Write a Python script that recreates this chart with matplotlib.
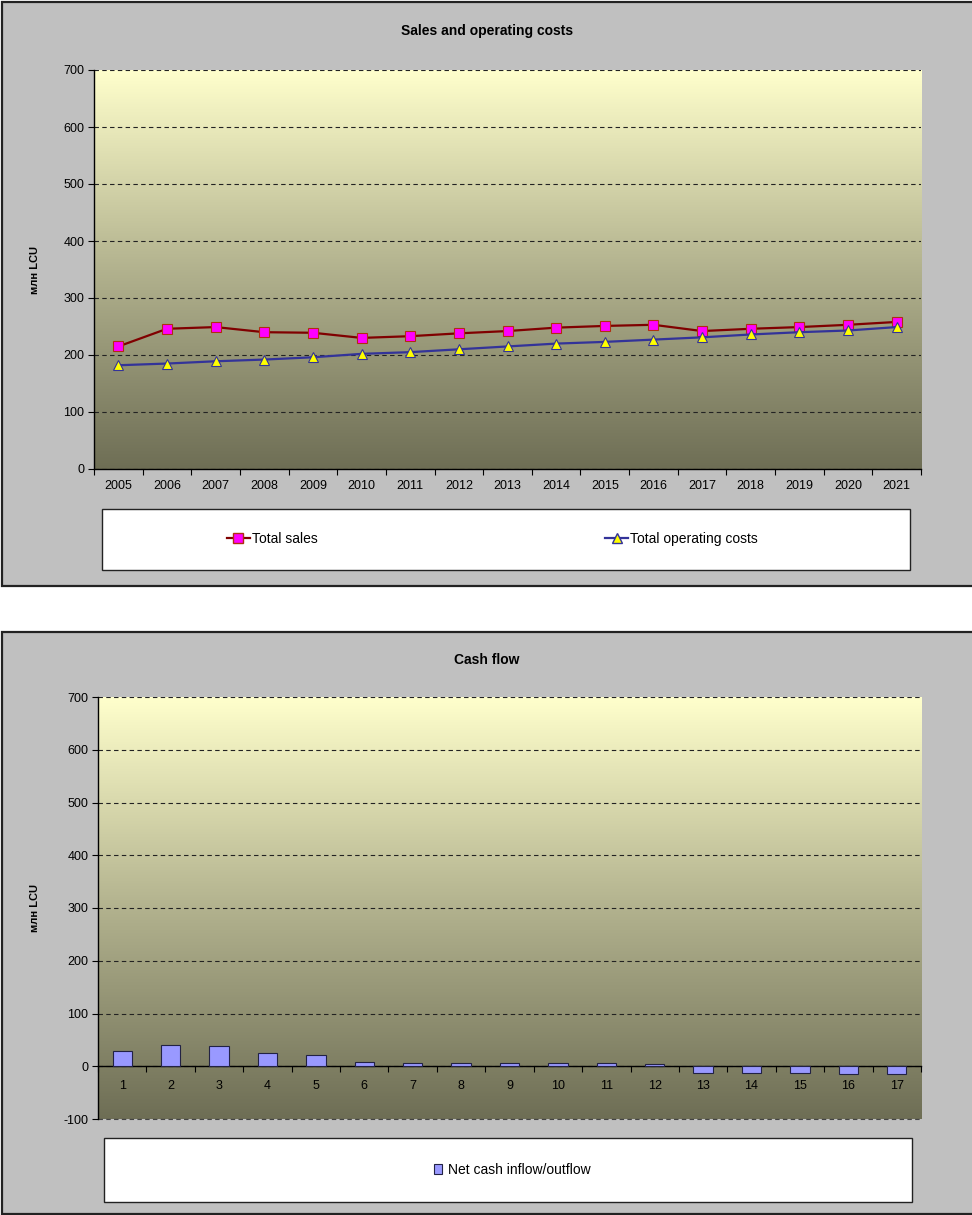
import numpy as np
import matplotlib
matplotlib.use("Agg")
import matplotlib.pyplot as plt
from matplotlib.patches import Rectangle
from matplotlib.lines import Line2D
from matplotlib.colors import LinearSegmentedColormap

plt.rcParams['font.family'] = ['Liberation Sans', 'DejaVu Sans']
plt.rcParams['axes.unicode_minus'] = False

# data
years = [str(y) for y in range(2005, 2022)]
total_sales = [215, 246, 249, 240, 239, 230, 233, 238, 242, 248, 251, 253, 242, 246, 249, 253, 258]
operating_costs = [182, 185, 189, 192, 196, 202, 205, 210, 215, 220, 223, 227, 231, 236, 240, 243, 249]
periods = [str(i) for i in range(1, 18)]
net_cash = [28, 40, 38, 26, 21, 8, 7, 7, 7, 7, 7, 5, -12, -12, -12, -14, -14]

W, H = 972, 1215
fig = plt.figure(figsize=(W / 100, H / 100), dpi=100)


def fx(x):
    return x / W


def fy(y):
    return 1 - y / H


def box(x0, y0, x1, y1, fc, ec, lw):
    fig.add_artist(Rectangle((fx(x0), fy(y1)), fx(x1) - fx(x0), fy(y0) - fy(y1),
                             transform=fig.transFigure, facecolor=fc,
                             edgecolor=ec, lw=lw, zorder=-1))


# grey chart panels + white legend boxes
box(2, 2, 980, 586, '#C0C0C0', '#222222', 1.6)
box(2, 632, 980, 1214, '#C0C0C0', '#222222', 1.6)
box(102, 509, 910, 570, 'white', '#222222', 1.0)
box(104, 1138, 912, 1202, 'white', '#222222', 1.0)

grad = LinearSegmentedColormap.from_list('bg', ['#6E6E55', '#B2B28E', '#FFFFCC'])


def style_axes(ax, ymin, ymax):
    x = np.arange(1, 18)
    ax.imshow(np.linspace(0, 1, 256).reshape(-1, 1), cmap=grad, origin='lower',
              extent=(0.5, 17.5, ymin, ymax), aspect='auto', zorder=0)
    ax.set_xlim(0.5, 17.5)
    ax.set_ylim(ymin, ymax)
    ax.set_yticks(np.arange(ymin, ymax + 1, 100))
    ax.set_xticks(x)
    ax.set_xticks(np.arange(0.5, 18, 1), minor=True)
    ax.tick_params(axis='x', which='major', length=0, labelsize=9, pad=8)
    ax.tick_params(axis='x', which='minor', length=4, width=0.8, direction='out')
    ax.tick_params(axis='y', length=4, width=0.8, labelsize=9, pad=3)
    ax.set_axisbelow(True)
    ax.yaxis.grid(True, color='#222222', lw=0.8, dashes=(4, 3))
    for s in ['top', 'right']:
        ax.spines[s].set_visible(False)
    ax.spines['left'].set_linewidth(1.0)
    ax.spines['bottom'].set_linewidth(1.0)
    ax.set_facecolor('none')
    ax.set_ylabel('млн LCU', fontsize=8, fontweight='bold')


# --- Sales and operating costs ---
ax1 = fig.add_axes([fx(94), fy(469), fx(921) - fx(94), fy(70) - fy(469)])
style_axes(ax1, 0, 700)
x = np.arange(1, 18)
ax1.plot(x, total_sales, color='#800000', lw=1.6, marker='s', ms=7,
         mfc='#FF00FF', mec='#B03010', mew=0.8, zorder=3)
ax1.plot(x, operating_costs, color='#333399', lw=1.6, marker='^', ms=7.5,
         mfc='#FFFF00', mec='#333399', mew=0.8, zorder=3)
ax1.set_xticklabels(years)
ax1.yaxis.set_label_coords((40 - 94) / (921 - 94), 0.5)
fig.text(fx(487), fy(31), 'Sales and operating costs', ha='center', va='center',
         fontsize=10, fontweight='bold')

h1 = [Line2D([], [], color='#800000', lw=1.6, marker='s', ms=7, mfc='#FF00FF', mec='#B03010'),
      Line2D([], [], color='#333399', lw=1.6, marker='^', ms=7.5, mfc='#FFFF00', mec='#333399')]
fig.legend(h1, ['Total sales', 'Total operating costs'], loc='center left',
           bbox_to_anchor=(fx(227), fy(539)), frameon=False, ncol=2, fontsize=10,
           borderpad=0, borderaxespad=0, handlelength=1.65, handletextpad=0.15,
           columnspacing=20.7)

# --- Cash flow ---
ax2 = fig.add_axes([fx(98), fy(1119), fx(921) - fx(98), fy(697) - fy(1119)])
style_axes(ax2, -100, 700)
ax2.bar(x, net_cash, width=0.4, color='#9999FF', edgecolor='#222244', lw=0.8, zorder=3)
ax2.spines['bottom'].set_position(('data', 0))
ax2.axhline(-100, color='#444444', lw=0.8, dashes=(4, 3), zorder=1, clip_on=False)
ax2.set_xticklabels(periods)
ax2.tick_params(axis='x', which='major', pad=10)
ax2.yaxis.set_label_coords((40 - 98) / (921 - 98), 0.5)
fig.text(fx(487), fy(660), 'Cash flow', ha='center', va='center',
         fontsize=10, fontweight='bold')

h2 = [Rectangle((0, 0), 1, 1, facecolor='#9999FF', edgecolor='#222244', lw=0.8)]
fig.legend(h2, ['Net cash inflow/outflow'], loc='center',
           bbox_to_anchor=(fx(512), fy(1170)), frameon=False, fontsize=10,
           borderpad=0, borderaxespad=0, handlelength=0.6, handleheight=0.7,
           handletextpad=0.4)

fig.savefig('out.png', dpi=100)
